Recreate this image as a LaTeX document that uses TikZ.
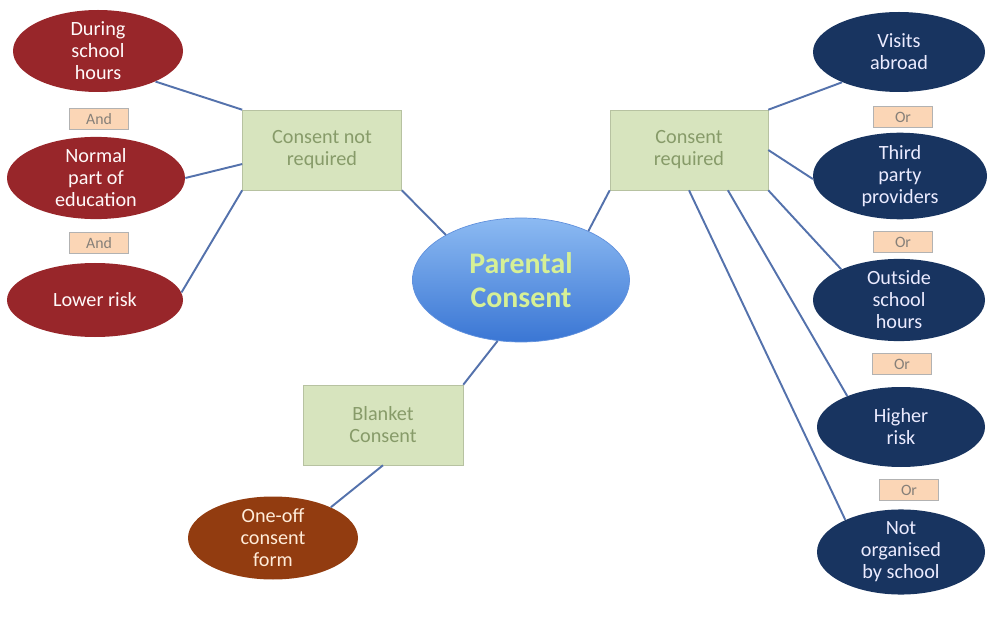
\documentclass[tikz,border=0pt]{standalone}
\usepackage{fontspec}
\setmainfont{Carlito}
\usetikzlibrary{shapes.geometric}

\definecolor{redell}{RGB}{152,38,42}
\definecolor{navyell}{RGB}{24,52,96}
\definecolor{brownell}{RGB}{146,60,16}
\definecolor{greenbox}{RGB}{215,228,190}
\definecolor{greentext}{RGB}{135,155,105}
\definecolor{peachbox}{RGB}{251,214,182}
\definecolor{linkblue}{RGB}{84,114,172}
\definecolor{centtop}{RGB}{140,186,242}
\definecolor{centbot}{RGB}{58,118,212}
\definecolor{centtext}{RGB}{214,240,150}

\begin{document}
\begin{tikzpicture}[
  redoval/.style={ellipse, fill=redell, text=white!90!pink, minimum width=3.4cm, minimum height=1.6cm, inner sep=0pt, align=center, font=\fontsize{11.5}{12.5}\selectfont},
  navyoval/.style={ellipse, fill=navyell, text=white!92!blue, minimum width=3.44cm, minimum height=1.6cm, inner sep=0pt, align=center, font=\fontsize{11.5}{12.5}\selectfont},
  greenbox/.style={rectangle, fill=greenbox, draw=greenbox!85!black, line width=0.3pt, text=greentext, minimum width=3.18cm, minimum height=1.6cm, align=center, font=\fontsize{11.5}{12.5}\selectfont},
  joinbox/.style={rectangle, fill=peachbox, draw=gray!60, line width=0.5pt, text=gray!90!brown, minimum width=1.18cm, minimum height=0.42cm, inner sep=0pt, font=\fontsize{9}{10}\selectfont},
  link/.style={draw=linkblue, line width=1.1pt}
]
  \useasboundingbox (0,0) rectangle (20,-12.82);

  % centre
  \node[ellipse, top color=centtop, bottom color=centbot, draw=centbot!80!white, line width=0.4pt, minimum width=4.34cm, minimum height=2.48cm, text=centtext, align=center, font=\bfseries\fontsize{17}{19}\selectfont] (parental) at (10.42cm,-5.6cm) {Parental\\Consent};

  % left branch
  \node[greenbox] (cnr) at (6.44cm,-3cm) {Consent not\\required};
  \node[redoval] (during) at (1.96cm,-1.02cm) {During\\school\\hours};
  \node[joinbox] (and1) at (1.98cm,-2.38cm) {And};
  \node[redoval, minimum width=3.56cm, minimum height=1.64cm] (normal) at (1.92cm,-3.56cm) {Normal\\part of\\education};
  \node[joinbox] (and2) at (1.98cm,-4.86cm) {And};
  \node[redoval, minimum width=3.52cm, minimum height=1.48cm] (lower) at (1.9cm,-6cm) {Lower risk};

  % bottom branch
  \node[greenbox, minimum width=3.2cm] (blanket) at (7.66cm,-8.5cm) {Blanket\\Consent};
  \node[redoval, fill=brownell, text=orange!15!white, minimum height=1.66cm] (oneoff) at (5.46cm,-10.76cm) {One-off\\consent\\form};

  % right branch
  \node[greenbox, minimum width=3.16cm] (cr) at (13.78cm,-3cm) {Consent\\required};
  \node[navyoval] (visits) at (17.98cm,-1.04cm) {Visits\\abroad};
  \node[joinbox] (or1) at (18.06cm,-2.34cm) {Or};
  \node[navyoval, minimum width=3.48cm, minimum height=1.64cm] (third) at (18cm,-3.52cm) {Third\\party\\providers};
  \node[joinbox] (or2) at (18.06cm,-4.84cm) {Or};
  \node[navyoval] (outside) at (17.98cm,-6cm) {Outside\\school\\hours};
  \node[joinbox] (or3) at (18.04cm,-7.28cm) {Or};
  \node[navyoval, minimum width=3.36cm] (higher) at (18.02cm,-8.54cm) {Higher\\risk};
  \node[joinbox] (or4) at (18.18cm,-9.8cm) {Or};
  \node[navyoval, minimum width=3.36cm, minimum height=1.62cm] (notorg) at (18.02cm,-11.04cm) {Not\\organised\\by school};

  % connectors
  \draw[link] (during.-28) -- (cnr.north west);
  \draw[link] (normal.east) -- (cnr.190);
  \draw[link] (lower.5) -- (cnr.south west);
  \draw[link] (cnr.south east) -- (parental.149);
  \draw[link] (cr.south west) -- (parental.36);
  \draw[link] (parental.-111) -- (blanket.north east);
  \draw[link] (blanket.south) -- (oneoff.28);
  \draw[link] (cr.north east) -- (visits.208);
  \draw[link] (cr.east) -- (third.182);
  \draw[link] (cr.south east) -- (outside.152);
  \draw[link] (cr.-46) -- (higher.150);
  \draw[link] (cr.south) -- (notorg.150);
\end{tikzpicture}
\end{document}
